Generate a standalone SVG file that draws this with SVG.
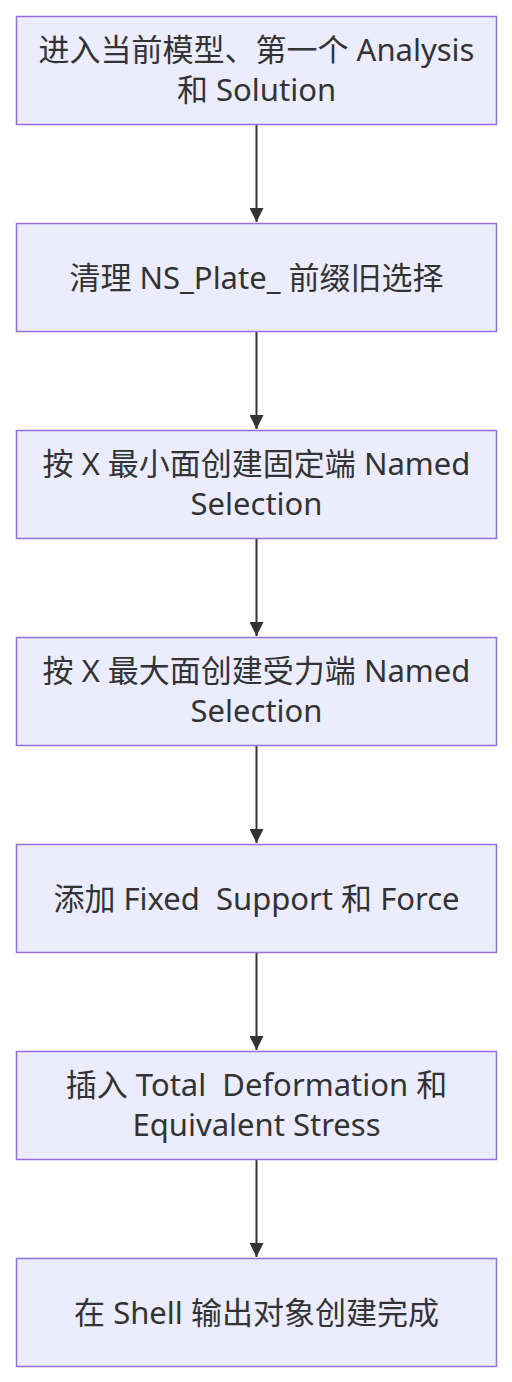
<svg xmlns="http://www.w3.org/2000/svg" width="512" height="1382" viewBox="0 0 512 1382">
<style>
.node rect{fill:#ECECFF;stroke:#9370DB;stroke-width:1.5}
.node text{font-family:"Noto Sans","Noto Sans CJK SC",sans-serif;font-size:31px;fill:#333;text-anchor:middle;dominant-baseline:central;white-space:pre}
.edge{stroke:#333;stroke-width:2;fill:none}
</style>
<defs>
<marker id="arr" viewBox="0 0 10 10" refX="10" refY="5" markerUnits="userSpaceOnUse" markerWidth="14" markerHeight="14" orient="auto">
<path d="M0,0 L10,5 L0,10 z" fill="#333"/>
</marker>
</defs>
<rect width="512" height="1382" fill="#fff"/>
<g id="edges">
<line class="edge" x1="256.5" y1="125" x2="256.5" y2="222" marker-end="url(#arr)"/>
<line class="edge" x1="256.5" y1="332" x2="256.5" y2="429" marker-end="url(#arr)"/>
<line class="edge" x1="256.5" y1="539" x2="256.5" y2="636" marker-end="url(#arr)"/>
<line class="edge" x1="256.5" y1="746" x2="256.5" y2="843" marker-end="url(#arr)"/>
<line class="edge" x1="256.5" y1="953" x2="256.5" y2="1050" marker-end="url(#arr)"/>
<line class="edge" x1="256.5" y1="1160" x2="256.5" y2="1257" marker-end="url(#arr)"/>
</g>
<g id="n1" class="node"><rect x="16.5" y="16.5" width="480" height="108"/><text x="256.5" y="49">进入当前模型、第一个 Analysis</text><text x="256.5" y="89">和 Solution</text></g>
<g id="n2" class="node"><rect x="16.5" y="223.5" width="480" height="108"/><text x="256.5" y="276.5">清理 NS_Plate_ 前缀旧选择</text></g>
<g id="n3" class="node"><rect x="16.5" y="430.5" width="480" height="108"/><text x="256.5" y="463">按 X 最小面创建固定端 Named</text><text x="256.5" y="503">Selection</text></g>
<g id="n4" class="node"><rect x="16.5" y="637.5" width="480" height="108"/><text x="256.5" y="670">按 X 最大面创建受力端 Named</text><text x="256.5" y="710">Selection</text></g>
<g id="n5" class="node"><rect x="16.5" y="844.5" width="480" height="108"/><text x="256.5" y="897.5">添加 Fixed  Support 和 Force</text></g>
<g id="n6" class="node"><rect x="16.5" y="1051.5" width="480" height="108"/><text x="256.5" y="1084">插入 Total  Deformation 和</text><text x="256.5" y="1124">Equivalent Stress</text></g>
<g id="n7" class="node"><rect x="16.5" y="1258.5" width="480" height="108"/><text x="256.5" y="1311.5">在 Shell 输出对象创建完成</text></g>
</svg>
